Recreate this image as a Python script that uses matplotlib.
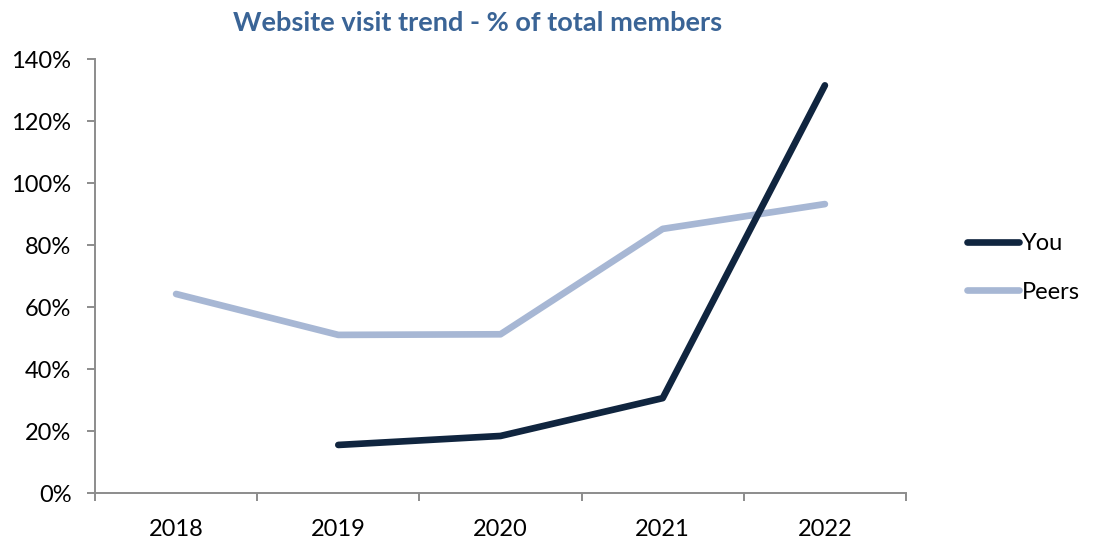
import matplotlib.pyplot as plt
from matplotlib.ticker import FixedLocator, PercentFormatter

years = ["2018", "2019", "2020", "2021", "2022"]
you = [None, 15.5, 18.4, 30.6, 131.5]
peers = [64.2, 51.0, 51.2, 85.2, 93.2]

navy = "#10253f"
light = "#a7b7d4"
grey = "#8c8c8c"

plt.rcParams['font.family'] = ['Lato', 'DejaVu Sans']

fig = plt.figure(figsize=(10.97, 5.42), dpi=100)
ax = fig.add_axes([95 / 1097, 1 - 493 / 542, (906 - 95) / 1097, (493 - 59) / 542])

x = list(range(len(years)))
you_x = [i for i, v in zip(x, you) if v is not None]
you_y = [v for v in you if v is not None]

ax.plot(you_x, you_y, color=navy, lw=4.8, solid_capstyle='round',
        solid_joinstyle='round', label="You", zorder=3)
ax.plot(x, peers, color=light, lw=4.8, solid_capstyle='round',
        solid_joinstyle='round', label="Peers", zorder=2)

ax.set_xlim(-0.5, len(years) - 0.5)
ax.set_ylim(0, 140)
ax.set_yticks(range(0, 141, 20))
ax.yaxis.set_major_formatter(PercentFormatter(decimals=0))
ax.set_xticks(x)
ax.set_xticklabels(years)
ax.xaxis.set_minor_locator(FixedLocator([i - 0.5 for i in range(len(years) + 1)]))

ax.tick_params(axis='x', which='major', length=0, pad=19, labelsize=17)
ax.tick_params(axis='x', which='minor', length=6, width=1.4, color=grey, direction='out')
ax.tick_params(axis='y', length=6, width=1.4, color=grey, labelsize=17, pad=11)

for side in ['top', 'right']:
    ax.spines[side].set_visible(False)
for side in ['left', 'bottom']:
    ax.spines[side].set_color(grey)
    ax.spines[side].set_linewidth(1.4)

fig.text(478 / 1097, 1 - 23 / 542, "Website visit trend - % of total members",
         ha='center', va='center', fontsize=19.5, fontweight='bold', color="#3a6496")

fig.legend(loc='center left', bbox_to_anchor=(946 / 1097, 1 - 268 / 542),
           frameon=False, fontsize=17, handlelength=2.2, handletextpad=0.1,
           labelspacing=1.15)

fig.savefig("out.png", dpi=100)
